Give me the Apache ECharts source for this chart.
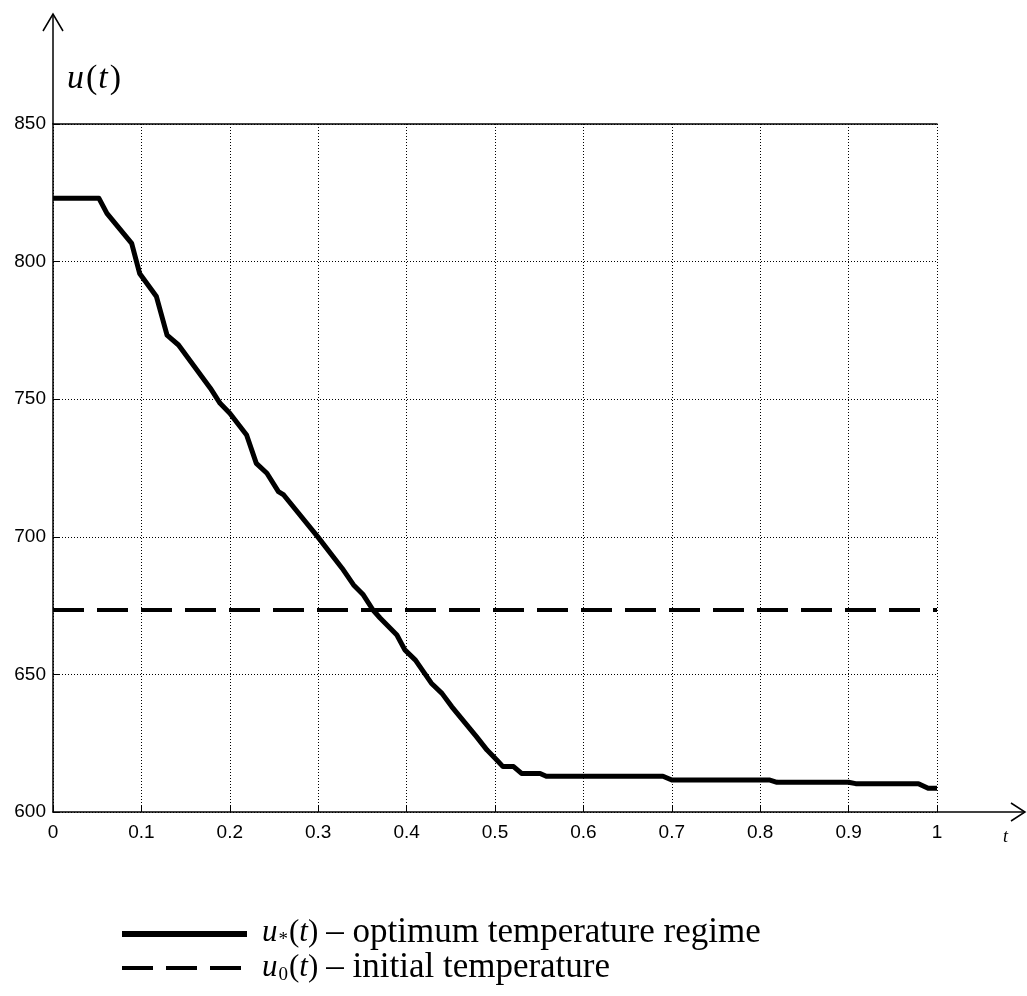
<!DOCTYPE html>
<html>
<head>
<meta charset="utf-8">
<script src="https://cdn.jsdelivr.net/npm/echarts@6/dist/echarts.min.js"></script>
<style>
html,body{margin:0;padding:0;background:#fff;}
#c{width:1027px;height:996px;}
</style>
</head>
<body>
<div id="c"></div>
<script>
// time values (t) for the optimum regime u*(t)
var tValues = [0, 0.052, 0.061, 0.089, 0.098, 0.117, 0.129, 0.142, 0.178, 0.189, 0.200, 0.219, 0.230, 0.242, 0.255, 0.261, 0.300, 0.327, 0.340, 0.351, 0.362, 0.370, 0.389, 0.398, 0.410, 0.428, 0.440, 0.451, 0.479, 0.491, 0.502, 0.509, 0.521, 0.530, 0.551, 0.558, 0.690, 0.700, 0.811, 0.819, 0.900, 0.908, 0.979, 0.990, 1.0];
// optimum temperature regime u*(t)
var uOptimum = [823, 823, 817.5, 806.6, 795.7, 787.3, 773.3, 769.7, 754, 748.5, 744.9, 737, 726.7, 723.1, 716.4, 715.2, 699.8, 688.6, 682.5, 678.9, 673.4, 670.5, 664.3, 658.9, 655.2, 646.8, 643.1, 638.3, 627.4, 622.5, 618.9, 616.5, 616.5, 614, 614, 613, 613, 611.6, 611.6, 610.8, 610.8, 610.3, 610.3, 608.6, 608.6];
// initial temperature u0(t)
var tInitial = [0, 1];
var uInitial = [673.4, 673.4];
// axis ticks
var xTickLabels = ['0', '0.1', '0.2', '0.3', '0.4', '0.5', '0.6', '0.7', '0.8', '0.9', '1'];
var yTickLabels = ['600', '650', '700', '750', '800', '850'];

function pairs(xs, ys) { return xs.map(function (x, i) { return [x, ys[i]]; }); }

var chart = echarts.init(document.getElementById('c'), null, {renderer: 'canvas'});
var labelFont = {color: '#000', fontFamily: 'Liberation Sans, Arial, sans-serif', fontSize: 19};
var serif = 'Liberation Serif, Times New Roman, serif';

function legendRich(size, textSize) {
  return {
    i: {fontFamily: serif, fontStyle: 'italic', fontSize: size, fill: '#000'},
    n: {fontFamily: serif, fontSize: size, fill: '#000'},
    s: {fontFamily: serif, fontSize: Math.round(size * 0.6), fill: '#000', verticalAlign: 'bottom', padding: [0, 1, 0, 1]},
    d: {fontFamily: serif, fontSize: textSize, fill: '#000', padding: [0, 0, 0, 8]}
  };
}

chart.setOption({
  animation: false,
  backgroundColor: '#fff',
  grid: {left: 53, right: 90, top: 124, bottom: 184, containLabel: false},
  xAxis: [{
    type: 'value', min: 0, max: 1, interval: 0.1,
    axisLine: {show: true, lineStyle: {color: '#000', width: 1.5}},
    axisTick: {show: true, inside: true, length: 7, lineStyle: {color: '#000', width: 1}},
    axisLabel: Object.assign({margin: 11, formatter: function (v) { return xTickLabels[Math.round(v * 10)]; }}, labelFont),
    splitLine: {show: true, lineStyle: {color: '#000', width: 1, type: [1, 2]}}
  }, {
    type: 'value', min: 0, max: 1, position: 'top',
    axisLine: {show: true, onZero: false, lineStyle: {color: '#000', width: 1.5}},
    axisTick: {show: false}, axisLabel: {show: false}, splitLine: {show: false}
  }],
  yAxis: {
    type: 'value', min: 600, max: 850, interval: 50,
    axisLine: {show: true, lineStyle: {color: '#000', width: 1.5}},
    axisTick: {show: true, inside: true, length: 7, lineStyle: {color: '#000', width: 1}},
    axisLabel: Object.assign({margin: 7, formatter: function (v) { return yTickLabels[Math.round((v - 600) / 50)]; }}, labelFont),
    splitLine: {show: true, lineStyle: {color: '#000', width: 1, type: [1, 2]}}
  },
  series: [{
    type: 'line', xAxisIndex: 0, data: pairs(tInitial, uInitial), showSymbol: false, symbol: 'none',
    lineStyle: {color: '#000', width: 4, type: [31, 13]}, z: 3
  }, {
    type: 'line', xAxisIndex: 0, data: pairs(tValues, uOptimum), showSymbol: false, symbol: 'none',
    lineStyle: {color: '#000', width: 5, join: 'round', cap: 'butt'}, z: 4
  }],
  graphic: [
    // y-axis extension with arrow
    {type: 'line', shape: {x1: 53, y1: 124, x2: 53, y2: 14}, style: {stroke: '#000', lineWidth: 1.5}},
    {type: 'polyline', shape: {points: [[43, 31], [53, 14], [63, 31]]}, style: {stroke: '#000', lineWidth: 1.5, fill: null}},
    // x-axis extension with arrow
    {type: 'line', shape: {x1: 937, y1: 812, x2: 1025, y2: 812}, style: {stroke: '#000', lineWidth: 1.5}},
    {type: 'polyline', shape: {points: [[1011, 803], [1025, 812], [1011, 821]]}, style: {stroke: '#000', lineWidth: 1.5, fill: null}},
    // axis titles
    {type: 'text', left: 67, top: 62, style: {
      text: '{i|u}{n|(}{i|t}{n|)}',
      rich: {
        i: {fontFamily: serif, fontStyle: 'italic', fontSize: 34, fill: '#000', padding: [0, 1, 0, 0]},
        n: {fontFamily: serif, fontSize: 34, fill: '#000', padding: [0, 1, 0, 1]}
      }
    }},
    {type: 'text', left: 1003, top: 828, style: {text: 't', fontFamily: serif, fontStyle: 'italic', fontSize: 18, fill: '#000'}},
    // legend
    {type: 'line', shape: {x1: 122, y1: 934, x2: 247, y2: 934}, style: {stroke: '#000', lineWidth: 6}},
    {type: 'line', shape: {x1: 122, y1: 968, x2: 247, y2: 968}, style: {stroke: '#000', lineWidth: 4, lineDash: [31, 13]}},
    {type: 'text', left: 262, top: 915, style: {
      text: '{i|u}{s|*}{n|(}{i|t}{n|)}{d|– optimum temperature regime}',
      rich: legendRich(31, 35)
    }},
    {type: 'text', left: 262, top: 950, style: {
      text: '{i|u}{s|0}{n|(}{i|t}{n|)}{d|– initial temperature}',
      rich: legendRich(31, 35)
    }}
  ]
});
</script>
</body>
</html>
